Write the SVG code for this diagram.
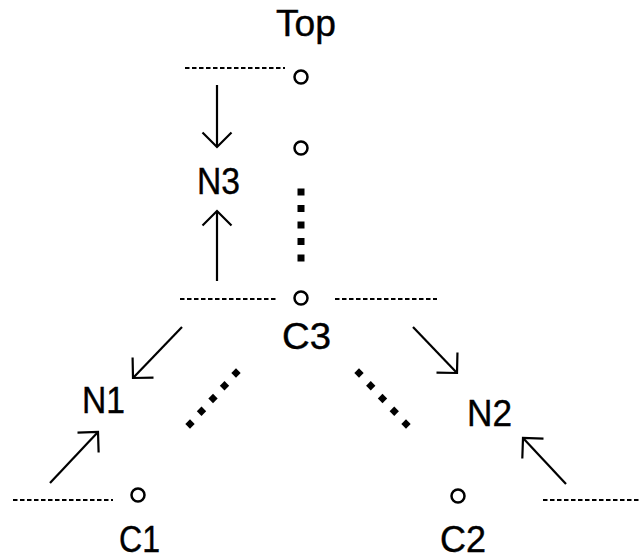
<svg xmlns="http://www.w3.org/2000/svg" width="640" height="559" viewBox="0 0 640 559">
<style>
.lbl{font-family:"Liberation Sans",Arial,sans-serif;font-size:37px;fill:#000;stroke:#000;stroke-width:0.4}
.pt{fill:none;stroke:#000;stroke-width:2.5}
.dash{stroke:#000;stroke-width:2.2;stroke-dasharray:4.5 2.5;fill:none}
.arr{stroke:#000;stroke-width:2.2;fill:none;marker-end:url(#ah)}
.sq{fill:#000}
</style>
<defs>
<marker id="ah" markerUnits="userSpaceOnUse" viewBox="-20 -20 40 40" markerWidth="40" markerHeight="40" refX="0" refY="0" orient="auto" overflow="visible">
<path d="M-14.5,-14.5 L0,0 L-14.5,14.5" fill="none" stroke="#000" stroke-width="2.2"/>
</marker>
<rect id="sqd" x="-3.5" y="-3.5" width="7" height="7"/>
<rect id="dmd" x="-3.3" y="-3.3" width="6.6" height="6.6" transform="rotate(45)"/>
</defs>
<rect width="640" height="559" fill="#fff"/>
<g id="top"><text class="lbl" x="276" y="36" textLength="60" lengthAdjust="spacingAndGlyphs">Top</text><circle class="pt" cx="301" cy="77" r="6.5"/></g>
<g id="mid"><circle class="pt" cx="301" cy="148" r="6.5"/></g>
<g id="N3"><text class="lbl" x="197" y="194" textLength="43" lengthAdjust="spacingAndGlyphs">N3</text></g>
<g id="C3"><circle class="pt" cx="301" cy="298" r="6.5"/><text class="lbl" x="282" y="349" textLength="49" lengthAdjust="spacingAndGlyphs">C3</text></g>
<g id="N1"><text class="lbl" x="82" y="413" textLength="43" lengthAdjust="spacingAndGlyphs">N1</text></g>
<g id="N2"><text class="lbl" x="467" y="426" textLength="45" lengthAdjust="spacingAndGlyphs">N2</text></g>
<g id="C1"><circle class="pt" cx="138" cy="495" r="6.5"/><text class="lbl" x="119" y="552" textLength="41" lengthAdjust="spacingAndGlyphs">C1</text></g>
<g id="C2"><circle class="pt" cx="458" cy="496" r="6.5"/><text class="lbl" x="440" y="552" textLength="46" lengthAdjust="spacingAndGlyphs">C2</text></g>
<g id="connectors">
<line class="dash" x1="185" y1="68" x2="285" y2="68"/>
<line class="dash" x1="180" y1="299" x2="278" y2="299"/>
<line class="dash" x1="335" y1="299" x2="437" y2="299"/>
<line class="dash" x1="13" y1="500" x2="113" y2="500"/>
<line class="dash" x1="543" y1="500" x2="640" y2="500"/>
<line class="arr" x1="217" y1="85" x2="217" y2="147"/>
<line class="arr" x1="217" y1="281" x2="217" y2="211"/>
<line class="arr" x1="182" y1="327" x2="133" y2="378"/>
<line class="arr" x1="50" y1="483" x2="98" y2="432"/>
<line class="arr" x1="413" y1="327" x2="457" y2="373"/>
<line class="arr" x1="566" y1="484" x2="523" y2="438"/>
<g class="sq">
<use href="#sqd" x="301" y="192"/><use href="#sqd" x="301" y="208.5"/><use href="#sqd" x="301" y="225"/><use href="#sqd" x="301" y="241.5"/><use href="#sqd" x="301" y="258"/>
<use href="#dmd" x="190" y="424"/><use href="#dmd" x="201.5" y="411.25"/><use href="#dmd" x="213" y="398.5"/><use href="#dmd" x="224.5" y="385.75"/><use href="#dmd" x="236" y="373"/>
<use href="#dmd" x="359" y="373"/><use href="#dmd" x="370.75" y="385.75"/><use href="#dmd" x="382.5" y="398.5"/><use href="#dmd" x="394.25" y="411.25"/><use href="#dmd" x="406" y="424"/>
</g>
</g>
</svg>
